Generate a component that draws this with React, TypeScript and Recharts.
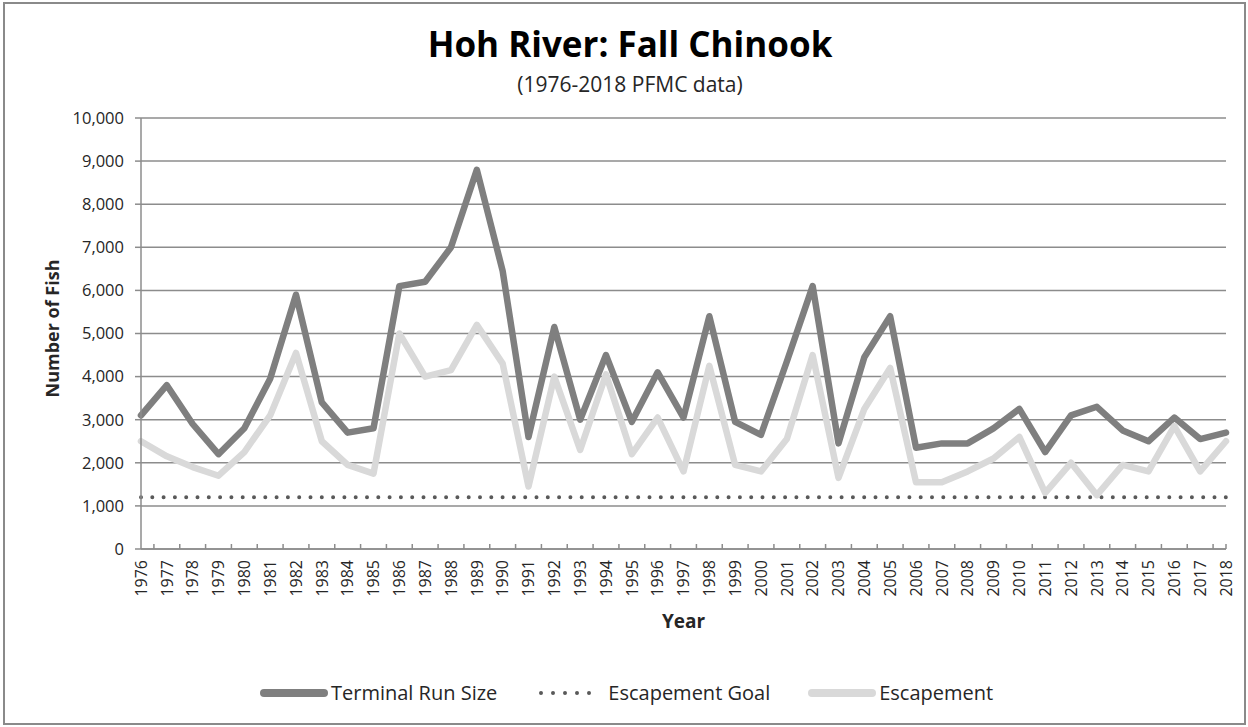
import React from 'react';
import { LineChart, Line, XAxis, YAxis, CartesianGrid, Legend, Label } from 'recharts';

const years = [
  1976, 1977, 1978, 1979, 1980, 1981, 1982, 1983, 1984, 1985,
  1986, 1987, 1988, 1989, 1990, 1991, 1992, 1993, 1994, 1995,
  1996, 1997, 1998, 1999, 2000, 2001, 2002, 2003, 2004, 2005,
  2006, 2007, 2008, 2009, 2010, 2011, 2012, 2013, 2014, 2015,
  2016, 2017, 2018,
];

const terminalRunSize = [
  3100, 3800, 2900, 2200, 2800, 3950, 5900, 3400, 2700, 2800,
  6100, 6200, 7000, 8800, 6450, 2600, 5150, 3000, 4500, 2950,
  4100, 3050, 5400, 2950, 2650, 4350, 6100, 2450, 4450, 5400,
  2350, 2450, 2450, 2800, 3250, 2250, 3100, 3300, 2750, 2500,
  3050, 2550, 2700,
];

const escapement = [
  2500, 2150, 1900, 1700, 2250, 3100, 4550, 2500, 1950, 1750,
  5000, 4000, 4150, 5200, 4300, 1450, 4000, 2300, 4050, 2200,
  3050, 1800, 4250, 1950, 1800, 2550, 4500, 1650, 3250, 4200,
  1550, 1550, 1800, 2100, 2600, 1300, 2000, 1250, 1950, 1800,
  2850, 1800, 2500,
];

const escapementGoal = 1200;

const yTicks = [0, 1000, 2000, 3000, 4000, 5000, 6000, 7000, 8000, 9000, 10000];

const TITLE = 'Hoh River: Fall Chinook';
const SUBTITLE = '(1976-2018 PFMC data)';
const X_TITLE = 'Year';
const Y_TITLE = 'Number of Fish';

const legendOrder = ['terminal', 'goal', 'escapement'];

const FONT = "'Open Sans', 'Noto Sans', sans-serif";
const TEXT = '#262626';
const GRID = '#8c8c8c';
const DARK = '#7f7f7f';
const LIGHT = '#d9d9d9';
const DOTS = '#595959';

const data = years.map((year, i) => ({
  year,
  terminal: terminalRunSize[i],
  goal: escapementGoal,
  escapement: escapement[i],
}));

const midTicks = [...years.slice(1).map((y) => y - 0.5), years[years.length - 1]];

const YearTick = (props: any) => {
  const { x, y, payload } = props;
  return (
    <text
      x={x}
      y={y}
      dy="0.36em"
      transform={`rotate(-90 ${x} ${y})`}
      textAnchor="end"
      fontFamily={FONT}
      fontSize={16}
      fill={TEXT}
    >
      {payload.value}
    </text>
  );
};

const NoTick = () => <g />;

const renderLegend = (props: any) => {
  const payload = [...(props.payload || [])].sort(
    (a: any, b: any) => legendOrder.indexOf(a.dataKey) - legendOrder.indexOf(b.dataKey)
  );
  return (
    <div
      style={{
        display: 'flex',
        alignItems: 'center',
        height: 30,
        paddingLeft: 260,
        fontFamily: FONT,
        fontSize: 20,
        color: TEXT,
        boxSizing: 'border-box',
      }}
    >
      {payload.map((entry: any, i: number) => {
        const dotted = entry.dataKey === 'goal';
        return (
          <div
            key={i}
            style={{ display: 'flex', alignItems: 'center', marginLeft: i === 0 ? 0 : i === 1 ? 42 : 38 }}
          >
            {dotted ? (
              <svg width={64} height={10} style={{ display: 'block' }}>
                <line x1={2} y1={5} x2={62} y2={5} stroke={entry.color} strokeWidth={4} strokeDasharray="0 12" strokeLinecap="round" />
              </svg>
            ) : (
              <svg width={68} height={10} style={{ display: 'block' }}>
                <line x1={4} y1={5} x2={64} y2={5} stroke={entry.color} strokeWidth={8} strokeLinecap="round" />
              </svg>
            )}
            <span style={{ marginLeft: dotted ? 5 : 3, lineHeight: '30px', whiteSpace: 'nowrap' }}>{entry.value}</span>
          </div>
        );
      })}
    </div>
  );
};

export default function App() {
  return (
    <div style={{ position: 'absolute', left: 0, top: 0, width: 1248, height: 727, background: '#fff', overflow: 'hidden' }}>
      <LineChart
        width={1248}
        height={727}
        data={data}
        margin={{ top: 118, right: 22, bottom: 19, left: 0 }}
      >
        <XAxis
          xAxisId="mid"
          type="number"
          dataKey="year"
          domain={[years[0], years[years.length - 1]]}
          ticks={midTicks}
          interval={0}
          height={1}
          mirror
          axisLine={false}
          tick={<NoTick />}
          tickSize={5}
          tickLine={{ stroke: GRID, strokeWidth: 1.5 }}
        />
        <XAxis
          xAxisId="years"
          type="number"
          dataKey="year"
          domain={[years[0], years[years.length - 1]]}
          ticks={years}
          interval={0}
          height={129}
          tickLine={false}
          tickSize={0}
          tickMargin={11}
          tick={<YearTick />}
          axisLine={{ stroke: GRID, strokeWidth: 1.5 }}
        >
          <Label
            content={(p: any) => {
              const vb = p.viewBox || {};
              const cx = vb.x + vb.width / 2;
              return (
                <text x={cx} y={vb.y + 79} textAnchor="middle" fontFamily={FONT} fontWeight={700} fontSize={19} fill={TEXT}>
                  {X_TITLE}
                </text>
              );
            }}
          />
        </XAxis>
        <YAxis
          type="number"
          domain={[0, 10000]}
          ticks={yTicks}
          interval={0}
          width={141}
          tickSize={6}
          tickMargin={11}
          tickFormatter={(v: number) => v.toLocaleString('en-US')}
          tick={{ fill: TEXT, fontSize: 16.5, fontFamily: FONT }}
          tickLine={{ stroke: GRID, strokeWidth: 1.5 }}
          axisLine={{ stroke: GRID, strokeWidth: 1.5 }}
        >
          <Label
            content={(p: any) => {
              const vb = p.viewBox || {};
              const cx = 52;
              const cy = vb.y + vb.height / 2 - 5;
              return (
                <text
                  x={cx}
                  y={cy}
                  transform={`rotate(-90 ${cx} ${cy})`}
                  textAnchor="middle"
                  dominantBaseline="central"
                  fontFamily={FONT}
                  fontWeight={700}
                  fontSize={18}
                  fill={TEXT}
                >
                  {Y_TITLE}
                </text>
              );
            }}
          />
        </YAxis>
        <CartesianGrid xAxisId="years" vertical={false} stroke={GRID} strokeWidth={1.5} />
        <Legend
          verticalAlign="bottom"
          content={renderLegend}
          wrapperStyle={{ left: 0, width: 1248 }}
        />
        <Line
          xAxisId="years"
          type="linear"
          dataKey="terminal"
          name="Terminal Run Size"
          stroke={DARK}
          strokeWidth={6.5}
          strokeLinejoin="round"
          strokeLinecap="round"
          dot={false}
          activeDot={false}
          isAnimationActive={false}
        />
        <Line
          xAxisId="years"
          type="linear"
          dataKey="goal"
          name="Escapement Goal"
          stroke={DOTS}
          strokeWidth={4}
          strokeDasharray="0 11.3"
          strokeLinecap="round"
          dot={false}
          activeDot={false}
          isAnimationActive={false}
        />
        <Line
          xAxisId="years"
          type="linear"
          dataKey="escapement"
          name="Escapement"
          stroke={LIGHT}
          strokeWidth={6.5}
          strokeLinejoin="round"
          strokeLinecap="round"
          dot={false}
          activeDot={false}
          isAnimationActive={false}
        />
      </LineChart>
      <div
        style={{
          position: 'absolute',
          left: 0,
          top: 26,
          width: 1260,
          textAlign: 'center',
          fontFamily: FONT,
          fontWeight: 700,
          fontSize: 35,
          lineHeight: '35px',
          color: '#000',
          whiteSpace: 'nowrap',
        }}
      >
        {TITLE}
      </div>
      <div
        style={{
          position: 'absolute',
          left: 0,
          top: 74,
          width: 1260,
          textAlign: 'center',
          fontFamily: FONT,
          fontSize: 21,
          lineHeight: '21px',
          color: TEXT,
          whiteSpace: 'nowrap',
        }}
      >
        {SUBTITLE}
      </div>
      <div
        style={{
          position: 'absolute',
          left: 3,
          top: 2,
          width: 1243,
          height: 723,
          border: '2px solid #8a8a8a',
          boxSizing: 'border-box',
          pointerEvents: 'none',
        }}
      />
    </div>
  );
}
